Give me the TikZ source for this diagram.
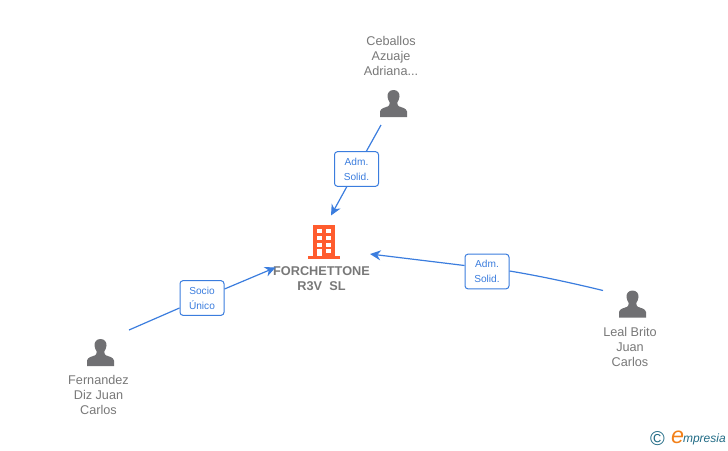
\documentclass[tikz,border=0pt]{standalone}
\usepackage{fontspec}
\setmainfont{Liberation Sans}
\usetikzlibrary{arrows.meta}

\definecolor{linkblue}{rgb}{0.23,0.49,0.87}
\definecolor{labelgray}{rgb}{0.47,0.47,0.47}
\definecolor{icongray}{rgb}{0.44,0.44,0.45}
\definecolor{firmorange}{rgb}{1,0.36,0.18}
\definecolor{logoteal}{rgb}{0.13,0.42,0.52}
\definecolor{logoorange}{rgb}{0.95,0.50,0.10}

\tikzset{every picture/.style={line width=0.75pt}}
\tikzset{
	namelabel/.style={text=labelgray,align=center,inner sep=0pt,font=\fontsize{9.5}{11.25}\selectfont},
	firmlabel/.style={text=labelgray,align=center,inner sep=0pt,font=\bfseries\fontsize{9.55}{11.25}\selectfont},
	rolebox/.style={draw=linkblue,fill=white,rounded corners=2.25pt,line width=0.75pt,minimum width=33pt,minimum height=26pt,inner sep=0pt,text=linkblue,align=center,font=\fontsize{7.6}{11.25}\selectfont},
	linkline/.style={draw=linkblue,line width=0.9pt},
	linkarrow/.style={linkline,-{Stealth[length=8pt,width=7.5pt,inset=2.5pt]}},
	personicon/.pic={
		\fill[icongray,yscale=-1] (0,-13.5) .. controls (-4,-13.5) and (-6.2,-10.5) .. (-6,-7) .. controls (-5.8,-4.5) and (-4.8,-2.5) .. (-3.8,-1) .. controls (-3.8,1) and (-4.2,2) .. (-5.4,2.8) .. controls (-8,4) and (-13,4.6) .. (-13.5,8) -- (-13.5,13.5) -- (13.5,13.5) -- (13.5,8) .. controls (13,4.6) and (8,4) .. (5.4,2.8) .. controls (4.2,2) and (3.8,1) .. (3.8,-1) .. controls (4.8,-2.5) and (5.8,-4.5) .. (6,-7) .. controls (6.2,-10.5) and (4,-13.5) .. (0,-13.5) -- cycle;
	},
}

\begin{document}
\begin{tikzpicture}[x=0.75pt,y=0.75pt,yscale=-1,xscale=1]
	\useasboundingbox (0,0) rectangle (728,450);

	% building
	\fill[firmorange] (313,225) rectangle (335,256);
	\fill[firmorange] (308,256) rectangle (340,259);
	\foreach \wy in {229,236,243}{
		\fill[white] (317,\wy) rectangle (322,\wy+4);
		\fill[white] (326,\wy) rectangle (331,\wy+4);
	}
	\fill[white] (317,249) rectangle (322,256);
	\fill[white] (326,249) rectangle (331,253);

	% people
	\path (393.5,103.5) pic {personicon};
	\path (100.5,352.5) pic {personicon};
	\path (632.5,304) pic {personicon};

	% Text Node
	\node[firmlabel] (firm) at (321.5,278.5) {FORCHETTONE\\R3V\ \ SL};
	\node[namelabel] (ceballos) at (391,56) {Ceballos\\Azuaje\\Adriana...};
	\node[namelabel] (fernandez) at (98.5,395) {Fernandez\\Diz Juan\\Carlos};
	\node[namelabel] (leal) at (630,347) {Leal Brito\\Juan\\Carlos};

	% role boxes
	\node[rolebox] (roleceballos) at (356.5,169) {\raisebox{-0.4pt}{Adm.}\\\raisebox{-0.4pt}{Solid.}};
	\node[rolebox] (rolefernandez) at (202,298) {\raisebox{-0.4pt}{Socio}\\\raisebox{-0.4pt}{Único}};
	\node[rolebox] (roleleal) at (487,271.5) {\raisebox{-0.4pt}{Adm.}\\\raisebox{-0.4pt}{Solid.}};

	% free ends
	\coordinate (startceballos) at (381,125);
	\coordinate (endceballos) at (331,215.5);
	\coordinate (startfernandez) at (129,330);
	\coordinate (endfernandez) at (275.5,267.5);
	\coordinate (startleal) at (603,290.5);
	\coordinate (endleal) at (370,254);

	% links
	\draw[linkline] (startceballos) -- (roleceballos);
	\draw[linkarrow] (roleceballos) -- (endceballos);
	\draw[linkline] (startfernandez) -- (rolefernandez.west |- 0,308);
	\draw[linkarrow] (rolefernandez.east |- 0,289) -- (endfernandez);
	\draw[linkline] (startleal) .. controls (572,283) and (540,276) .. (roleleal.east |- 0,271);
	\draw[linkarrow] (roleleal.west |- 0,265.5) -- (endleal);

	% logo
	\node[text=logoteal,inner sep=0pt,font=\fontsize{15}{15}\selectfont] (logoc) at (657.5,438.5) {©};
	\node[text=logoorange,inner sep=0pt,font=\itshape\fontsize{17.5}{17.5}\selectfont] (logoe) at (677.5,437.5) {e};
	\node[text=logoteal,inner sep=0pt,anchor=west,font=\itshape\fontsize{9}{9}\selectfont] (logotext) at (682.5,439) {mpresia};
\end{tikzpicture}
\end{document}
